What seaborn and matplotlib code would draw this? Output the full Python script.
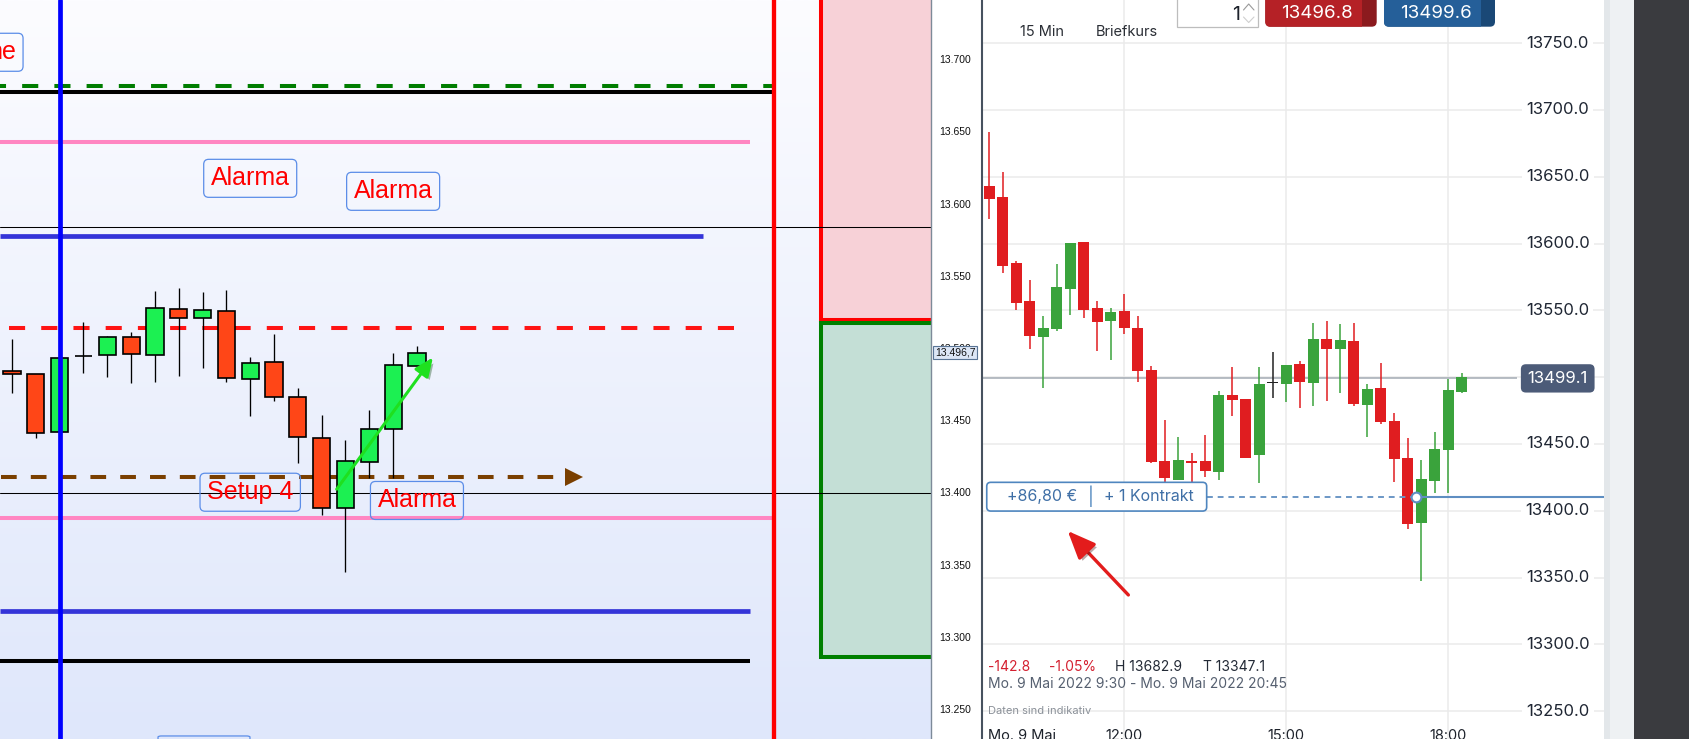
import matplotlib
matplotlib.use("Agg")
import matplotlib.pyplot as plt
import matplotlib.patheffects as pe
import matplotlib.transforms as mtransforms
from matplotlib.colors import LinearSegmentedColormap
from matplotlib.lines import Line2D
from matplotlib.patches import FancyBboxPatch, Rectangle
import numpy as np
import seaborn as sns

# ---- left platform: 18 bars (index points) ----
left_open = [13484.3, 13481.8, 13441.6, 13494.3, 13494.9, 13507.4, 13494.9, 13526.8, 13520.6,
             13525.4, 13478.3, 13490.1, 13465.9, 13437.5, 13389.0, 13420.8, 13443.7, 13487.3]
left_close = [13482.0, 13440.9, 13492.9, 13494.3, 13507.4, 13495.6, 13527.5, 13520.6, 13526.1,
              13479.0, 13489.4, 13465.9, 13438.2, 13389.0, 13421.5, 13443.7, 13488.0, 13496.3]
left_high = [13506.0, 13482.0, 13492.9, 13518.2, 13508.3, 13511.1, 13539.5, 13541.6, 13538.8,
             13540.2, 13493.8, 13509.7, 13472.3, 13453.6, 13436.3, 13456.8, 13496.5, 13501.4]
left_low = [13469.0, 13437.9, 13441.6, 13482.9, 13480.1, 13476.0, 13476.7, 13480.8, 13486.4,
            13476.7, 13453.1, 13463.5, 13420.2, 13384.4, 13345.1, 13409.8, 13409.8, 13487.3]
left_ticks = list(range(13250, 13701, 50))
left_last = 13496.7

# drawn levels: price, last bar index they reach
green_dash_level, green_dash_end = 13681.1, 32
black_levels, black_ends = [13677.6, 13283.0], [32, 31]
pink_levels, pink_ends = [13642.5, 13382.3], [31, 32]
blue_levels, blue_ends = [13577.9, 13317.9], [29, 31]
red_dash_level, red_dash_end = 13513.5, 31
brown_level, brown_end = 13410.5, 23.2
thin_levels = [13584.1, 13399.3]
blue_vline, red_vline = 2, 32
zone_start = 33.96
sell_zone = (13519.4, 13800.0)
buy_zone = (13286.0, 13517.3)

left_labels = ["Alarma", "Alarma", "Setup 4", "Alarma"]
left_label_x = [10.0, 16.0, 10.0, 17.0]
left_label_y = [13617.5, 13608.5, 13400.1, 13394.4]
trend_from, trend_to = (13.63, 13402.2), (17.67, 13493.4)

# ---- right platform: 15 min bars, Mo. 9 Mai 2022 from 9:30 ----
right_open = [13643.1, 13634.9, 13585.5, 13557.0, 13530.1, 13536.1, 13566.0, 13601.2, 13551.8,
              13542.1, 13549.6, 13536.8, 13505.4, 13437.3, 13423.0, 13437.0, 13437.3, 13429.3,
              13486.7, 13483.9, 13441.8, 13495.4, 13494.9, 13509.9, 13495.9, 13528.6, 13521.4,
              13527.1, 13479.4, 13491.9, 13467.2, 13439.5, 13391.1, 13422.6, 13445.5, 13488.9]
right_close = [13633.4, 13583.2, 13555.8, 13531.1, 13536.8, 13567.5, 13600.4, 13550.3, 13541.3,
               13548.8, 13536.8, 13504.6, 13436.5, 13424.8, 13438.0, 13435.8, 13430.0, 13486.7,
               13482.9, 13439.8, 13494.9, 13495.4, 13509.1, 13496.7, 13528.6, 13521.4, 13527.8,
               13480.2, 13491.2, 13466.7, 13439.0, 13390.4, 13423.8, 13446.3, 13490.4, 13500.1]
right_high = [13683.8, 13653.6, 13586.9, 13572.8, 13545.8, 13584.7, 13600.4, 13601.2, 13557.0,
              13551.8, 13562.3, 13545.8, 13508.4, 13468.0, 13455.5, 13443.5, 13457.0, 13489.7,
              13507.9, 13483.9, 13507.9, 13519.1, 13509.1, 13512.4, 13540.8, 13542.1, 13539.8,
              13540.8, 13494.9, 13510.6, 13473.2, 13454.5, 13438.0, 13459.0, 13498.7, 13503.1]
right_low = [13618.4, 13578.2, 13550.3, 13521.1, 13492.1, 13534.6, 13546.6, 13544.3, 13519.6,
             13512.9, 13532.3, 13496.4, 13436.0, 13421.8, 13423.0, 13420.5, 13425.0, 13423.0,
             13471.0, 13439.8, 13420.6, 13484.7, 13481.7, 13477.2, 13478.7, 13482.4, 13488.4,
             13478.7, 13455.0, 13465.0, 13421.8, 13386.6, 13347.1, 13413.6, 13413.6, 13488.2]
right_ticks = list(range(13250, 13751, 50))
time_ticks = [10, 22, 34]
time_labels = ["12:00", "15:00", "18:00"]
right_last = 13499.1
bid, ask = "13496.8", "13499.6"
entry_price, entry_bar = 13410.6, 31.6
entry_pnl, entry_size = "+86,80 €", "+ 1 Kontrakt"
stats = [("-142.8", "#d42030"), ("-1.05%", "#d42030"), ("H 13682.9", "#232a36"), ("T 13347.1", "#232a36")]
stats_x = [988, 1049, 1115, 1203]

sns.set_theme(style="white")
plt.rcParams["font.family"] = ["Liberation Sans", "DejaVu Sans"]
INTER = ["Inter", "DejaVu Sans"]

W, H = 1689, 739
fig = plt.figure(figsize=(W / 100, H / 100), dpi=100)
fig.patch.set_facecolor("white")

# ================= left chart =================
ax_l = fig.add_axes([0, 0, 931 / W, 1])
xlim_l, ylim_l = (-0.504, 38.58), (13229.2, 13741.0)
bg = LinearSegmentedColormap.from_list("bg", ["#dfe7fb", "#fcfcff"])
ax_l.imshow(np.linspace(0, 1, 256).reshape(-1, 1), cmap=bg, origin="lower", aspect="auto",
            extent=[*xlim_l, *ylim_l], zorder=0)

ax_l.add_patch(Rectangle((zone_start, sell_zone[0]), 10, sell_zone[1] - sell_zone[0],
                         facecolor="#f7d1d7", edgecolor="#ff0000", lw=2.9, zorder=1))
ax_l.add_patch(Rectangle((zone_start, buy_zone[0]), 10, buy_zone[1] - buy_zone[0],
                         facecolor="#c4dfd6", edgecolor="#008000", lw=2.9, zorder=1))

x0 = xlim_l[0]
ax_l.plot([x0, green_dash_end], [green_dash_level] * 2, color="#007d00", lw=2.9,
          ls=(2.5, (4, 4)), solid_capstyle="butt", zorder=2)
for lv, end in zip(black_levels, black_ends):
    ax_l.hlines(lv, x0, end, color="black", lw=2.9, zorder=2)
for lv, end in zip(pink_levels, pink_ends):
    ax_l.hlines(lv, x0, end, color="#ff86c2", lw=2.9, zorder=2)
for lv, end in zip(blue_levels, blue_ends):
    ax_l.hlines(lv, x0, end, color="#3434d8", lw=3.4, zorder=2)
for lv in thin_levels:
    ax_l.axhline(lv, color="black", lw=0.75, zorder=2.5)
ax_l.plot([-0.14, red_dash_end], [red_dash_level] * 2, color="#ff1414", lw=2.9,
          dashes=(4, 4), zorder=2)
ax_l.plot([-0.46, brown_end], [brown_level] * 2, color="#7a3f00", lw=2.9,
          dashes=(3.9, 3.5), zorder=2)
ax_l.plot(brown_end + 0.38, brown_level, marker=">", ms=13, color="#7a3f00", mew=0, zorder=2)

xl = np.arange(len(left_open))
lo_o, lo_c = np.array(left_open), np.array(left_close)
left_cols = np.where(lo_c >= lo_o, "#1cf052", "#ff4617")
ax_l.vlines(xl, left_low, left_high, color="black", lw=0.95, zorder=3)
ax_l.bar(xl, np.abs(lo_c - lo_o), bottom=np.minimum(lo_o, lo_c), width=0.72, color=left_cols,
         edgecolor="black", linewidth=1.2, zorder=3.5)

ax_l.axvline(blue_vline, color="#0000ff", lw=3.4, zorder=4)
ax_l.axvline(red_vline, color="#ff0000", lw=3.1, zorder=4)

box = dict(boxstyle="round,pad=0.28,rounding_size=0.2", facecolor="none", edgecolor="#5b8de8", lw=0.9)
for txt, xi, yv in zip(left_labels, left_label_x, left_label_y):
    ax_l.text(xi, yv, txt, ha="center", va="center", color="#ff0000", fontsize=18, bbox=box, zorder=6)
ax_l.text(0.17, 13704.8, "ne", ha="right", va="center", color="#ff0000", fontsize=18, bbox=box, zorder=6)
ax_l.add_patch(FancyBboxPatch((6.13, 13200), 3.86, 31.3, boxstyle="round,pad=0,rounding_size=0.15",
                              mutation_aspect=5, facecolor="none", edgecolor="#5b8de8", lw=0.9, zorder=6))

ax_l.annotate("", xy=trend_to, xytext=trend_from, zorder=6,
              arrowprops=dict(arrowstyle="-|>,head_length=0.8,head_width=0.35", color="#1fe01f",
                              lw=2.2, mutation_scale=14, shrinkA=0, shrinkB=0,
                              path_effects=[pe.withSimplePatchShadow(offset=(2, -2), alpha=0.35)]))

ax_l.set_xlim(*xlim_l)
ax_l.set_ylim(*ylim_l)
ax_l.yaxis.tick_right()
ax_l.set_yticks(left_ticks)
ax_l.set_yticklabels([f"{t / 1000:.3f}" for t in left_ticks])
ax_l.set_xticks([])
ax_l.tick_params(axis="y", right=True, length=4, width=0.8, color="#5a6675", pad=2,
                 labelsize=7.5, labelcolor="#111111")
sns.despine(ax=ax_l, left=True, bottom=True, top=True, right=False)
ax_l.spines["right"].set_color("#7d8a99")
ax_l.spines["right"].set_linewidth(1.0)
tr_l = mtransforms.blended_transform_factory(ax_l.transAxes, ax_l.transData)
last_txt = f"{int(left_last) // 1000}.{int(left_last) % 1000:03d},{round(left_last * 10) % 10}"
ax_l.text(1.004, left_last, last_txt, transform=tr_l, ha="left", va="center", fontsize=7.5,
          color="#111111", bbox=dict(boxstyle="square,pad=0.15", fc="#dce6f6", ec="#5a7596", lw=0.8),
          zorder=7, clip_on=False)

# ================= right chart =================
ax_r = fig.add_axes([982 / W, 0, (1604 - 982) / W, 1])
ax_r.set_facecolor("white")
ax_r.set_xlim(-0.541, 45.53)
ax_r.set_ylim(13229.2, 13782.3)
ax_r.set_yticks(right_ticks)
ax_r.set_xticks(time_ticks)
ax_r.grid(True, color="#ebebeb", lw=1.1)
ax_r.set_axisbelow(True)
ax_r.tick_params(length=0, labelleft=False, labelbottom=False)
sns.despine(ax=ax_r, left=False, bottom=True, top=True, right=True)
ax_r.spines["left"].set_color("#47525f")
ax_r.spines["left"].set_linewidth(1.5)

xr = np.arange(len(right_open))
ro, rc = np.array(right_open), np.array(right_close)
right_cols = np.where(rc > ro, "#3aa33c", np.where(rc < ro, "#e01d20", "#222222"))
ax_r.vlines(xr, right_low, right_high, colors=right_cols, lw=1.1, zorder=3)
ax_r.bar(xr, np.maximum(np.abs(rc - ro), 1.1), bottom=np.minimum(ro, rc), width=0.8,
         color=right_cols, linewidth=0, zorder=3)

ax_r.hlines(right_last, -0.541, 39.1, color="#a3abb4", lw=1.1, zorder=2)
tr_r = mtransforms.blended_transform_factory(ax_r.transAxes, ax_r.transData)
for t in right_ticks:
    if t == 13500:
        continue
    ax_r.text(0.9256, t, f"{t:.1f}", transform=tr_r, ha="center", va="center", fontsize=12,
              family=INTER, color="#1f2633", bbox=dict(boxstyle="square,pad=0.25", fc="white", ec="none"))
ax_r.text(0.9256, right_last, f"{right_last:.1f}", transform=tr_r, ha="center", va="center",
          fontsize=12, family=INTER, color="white",
          bbox=dict(boxstyle="round,pad=0.4,rounding_size=0.3", fc="#4c5b78", ec="none"), zorder=7)

tr_x = mtransforms.blended_transform_factory(ax_r.transData, ax_r.transAxes)
ax_r.text(-0.1, -0.001, "Mo. 9 Mai", transform=tr_x, ha="left", va="baseline", fontsize=10.5,
          family=INTER, color="#1d222b")
for xi, lab in zip(time_ticks, time_labels):
    ax_r.text(xi, -0.001, lab, transform=tr_x, ha="center", va="baseline", fontsize=10.5,
              family=INTER, color="#1d222b")

# entry marker
ax_r.plot([16.1, entry_bar], [entry_price] * 2, color="#6b97c6", lw=1.4, dashes=(3, 2.5), zorder=4)
ax_r.plot([entry_bar, 46], [entry_price] * 2, color="#5e8ec2", lw=1.5, zorder=4)
ax_r.plot(entry_bar, entry_price, "o", ms=7, mfc="white", mec="#5e8ec2", mew=1.5, zorder=6)
ax_r.add_patch(FancyBboxPatch((-0.19, 13399.8), 16.29, 21.5, boxstyle="round,pad=0,rounding_size=0.3",
                              mutation_aspect=10, fc="white", ec="#4f86bf", lw=1.2, zorder=5))
ax_r.text(3.93, entry_price, entry_pnl, ha="center", va="center", fontsize=11.5, family=INTER,
          color="#3f6fa6", zorder=6)
ax_r.text(7.51, entry_price, "|", ha="center", va="center", fontsize=13, family=INTER,
          color="#4f86bf", zorder=6)
ax_r.text(11.78, entry_price, entry_size, ha="center", va="center", fontsize=11.5, family=INTER,
          color="#3f6fa6", zorder=6)

ax_r.annotate("", xy=(5.81, 13384.9), xytext=(10.30, 13337.0), zorder=6,
              arrowprops=dict(arrowstyle="-|>,head_length=1.0,head_width=0.42", color="#e31c1c",
                              lw=2.4, mutation_scale=17, shrinkA=0, shrinkB=0,
                              path_effects=[pe.withSimplePatchShadow(offset=(2, -2), alpha=0.35)]))

# ================= screen chrome (pixel coords) =================
ax_o = fig.add_axes([0, 0, 1, 1])
ax_o.set_xlim(0, W)
ax_o.set_ylim(H, 0)
ax_o.axis("off")
ax_o.patch.set_visible(False)

ax_o.add_patch(Rectangle((1604, 0), 30, H, fc="#eef1f3", ec="none"))
ax_o.add_patch(Rectangle((1604, 0), 6, H, fc="#e3e7ea", ec="none"))
ax_o.add_patch(Rectangle((1634, 0), 55, H, fc="#3a3b3f", ec="none"))

ax_o.text(1042, 32, "15 Min", ha="center", va="center", fontsize=10.5, family=INTER, color="#2b2f36")
ax_o.text(1127, 32, "Briefkurs", ha="center", va="center", fontsize=10.5, family=INTER, color="#2b2f36")

ax_o.add_patch(Rectangle((1177, -3), 81, 30, fc="white", ec="#bdbdbd", lw=0.9))
ax_o.text(1240, 15, "1", ha="right", va="center", fontsize=14, family=INTER, color="#1d222b")
ax_o.add_line(Line2D([1243.5, 1248.7, 1254], [10, 4, 10], color="#9a9a9a", lw=0.8))
ax_o.add_line(Line2D([1243.5, 1248.7, 1254], [17, 22.5, 17], color="#cfcfcf", lw=0.8))

for (bx0, bx1, split, light, dark, label, cx) in [
        (1265.3, 1376.7, 1361.7, "#b52126", "#8b1a1e", bid, 1316.7),
        (1384.0, 1495.0, 1481.0, "#255f99", "#1a4876", ask, 1435.7)]:
    outer = FancyBboxPatch((bx0, -10), bx1 - bx0, 36.7, boxstyle="round,pad=0,rounding_size=5",
                           fc=dark, ec="none")
    ax_o.add_patch(outer)
    inner = Rectangle((bx0, -10), split - bx0, 36.7, fc=light, ec="none")
    ax_o.add_patch(inner)
    inner.set_clip_path(outer)
    ax_o.text(cx, 13.5, label, ha="center", va="center", fontsize=13.5, family=INTER, color="white")

for (txt, col), sx in zip(stats, stats_x):
    ax_o.text(sx, 666.7, txt, ha="left", va="center", fontsize=10, family=INTER, color=col)
ax_o.text(988, 684.3, "Mo. 9 Mai 2022 9:30 - Mo. 9 Mai 2022 20:45", ha="left", va="center",
          fontsize=10, family=INTER, color="#566070")
ax_o.text(988, 710.7, "Daten sind indikativ", ha="left", va="center", fontsize=8, family=INTER,
          color="#8a9098")

fig.savefig("out.png", dpi=100)
